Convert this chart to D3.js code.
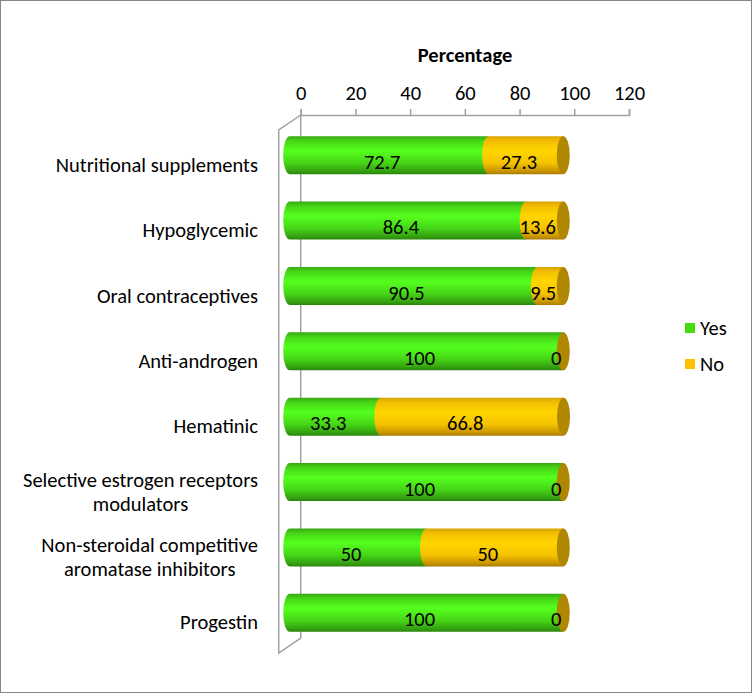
<!DOCTYPE html>
<html>
<head>
<meta charset="utf-8">
<script src="https://cdn.jsdelivr.net/npm/d3@7"></script>
<style>
  body { margin: 0; background: #fff; }
  svg text { font-family: Carlito, Lato, "Open Sans", sans-serif; fill: #000; }
</style>
</head>
<body>
<div id="chart"></div>
<script>
/* categories, top to bottom */
var categories = [
  "Nutritional supplements",
  "Hypoglycemic",
  "Oral contraceptives",
  "Anti-androgen",
  "Hematinic",
  "Selective estrogen receptors|modulators",
  "Non-steroidal competitive|aromatase inhibitors",
  "Progestin"
];
var seriesNames = ["Yes", "No"];
var yesValues = [72.7, 86.4, 90.5, 100, 33.3, 100, 50, 100];
var noValues = [27.3, 13.6, 9.5, 0, 66.8, 0, 50, 0];
var xTicks = [0, 20, 40, 60, 80, 100, 120];

var W = 752, H = 693;
var depthX = -22, depthY = 15; // front plane offset from back wall
var fontSize = "20.5px";

var svg = d3.select("#chart").append("svg")
  .attr("width", W)
  .attr("height", H);

/* gradients for the cylinders */
var defs = svg.append("defs");
function grad(id, stops) {
  var g = defs.append("linearGradient").attr("id", id)
    .attr("x1", 0).attr("y1", 0).attr("x2", 0).attr("y2", 1);
  stops.forEach(function(s) {
    g.append("stop").attr("offset", s[0]).attr("stop-color", s[1]);
  });
}
grad("gYes", [[0, "#37a812"], [0.12, "#46d417"], [0.38, "#55ff1e"], [0.7, "#46d617"], [0.92, "#34a010"], [1, "#2a850c"]]);
grad("gNo", [[0, "#d9a300"], [0.12, "#f2bd00"], [0.38, "#ffd500"], [0.7, "#f5c300"], [0.92, "#c99400"], [1, "#a87c00"]]);
var fills = ["url(#gYes)", "url(#gNo)"];
var capColor = "#b08700";

/* border */
svg.append("rect")
  .attr("x", 0.5).attr("y", 0.5)
  .attr("width", W - 1).attr("height", H - 1)
  .attr("fill", "#fff").attr("stroke", "#868686");

/* scales */
var x = d3.scaleLinear().domain([0, 120]).range([300.7, 629]);
var yFront = d3.scaleBand().domain(categories).range([130, 653]);
var step = yFront.step();
var barH = 38;
var axisY = 115;

/* title */
svg.append("text")
  .attr("x", 465).attr("y", 62)
  .attr("text-anchor", "middle")
  .style("font-size", "20.5px").style("font-weight", "bold")
  .text("Percentage");

/* 3d walls */
var wall = svg.append("g").attr("fill", "none").attr("stroke", "#a0a0a0").attr("stroke-width", 1.5);
var backBottom = 653 - depthY;
wall.append("path")
  .attr("d", "M" + x(0) + "," + axisY + "V" + backBottom +
    "L" + (x(0) + depthX) + "," + (backBottom + depthY) +
    "V" + (axisY + depthY) + "L" + x(0) + "," + axisY);

/* top axis */
var axis = svg.append("g")
  .attr("transform", "translate(0," + axisY + ")")
  .call(d3.axisTop(x).tickValues(xTicks).tickSize(6).tickPadding(9));
axis.select(".domain").attr("stroke", "#a0a0a0").attr("stroke-width", 1.5);
axis.selectAll(".tick line").attr("stroke", "#a0a0a0").attr("stroke-width", 1.5);
axis.selectAll(".tick text")
  .style("font-size", fontSize)
  .style("font-family", "Carlito, Lato, 'Open Sans', sans-serif");

/* bars as cylinders */
var rx = 6.5;
var stacked = categories.map(function(c, i) {
  return [yesValues[i], noValues[i]];
});

categories.forEach(function(c, i) {
  var cyFront = yFront(c) + step / 2;
  var cy = cyFront - 7.5;
  var top = cy - barH / 2;
  var g = svg.append("g").attr("class", "bar");
  var acc = 0;
  stacked[i].forEach(function(v, s) {
    var x0 = x(acc) + depthX / 2;
    var x1 = x(acc + v) + depthX / 2;
    if (v > 0) {
      var ry = barH / 2;
      var d = "M" + x1 + "," + top +
        "H" + x0 +
        "A" + rx + "," + ry + " 0 0 0 " + x0 + "," + (top + barH) +
        "H" + x1 + "Z";
      g.append("path").attr("d", d).attr("fill", fills[s]);
    }
    acc += v;
  });
  /* end cap */
  g.append("ellipse")
    .attr("cx", x(acc) + depthX / 2)
    .attr("cy", cy)
    .attr("rx", rx)
    .attr("ry", barH / 2)
    .attr("fill", capColor);

  /* value labels */
  var a2 = 0;
  stacked[i].forEach(function(v, s) {
    svg.append("text")
      .attr("x", x(a2 + v / 2) - 18)
      .attr("y", cyFront - 1)
      .attr("dy", "0.35em")
      .attr("text-anchor", "middle")
      .style("font-size", fontSize)
      .text(v);
    a2 += v;
  });
});

/* category labels */
categories.forEach(function(c) {
  var lines = c.split("|");
  var cy = yFront(c) + yFront.step() / 2 + 2;
  var t = svg.append("text")
    .style("font-size", fontSize)
    .attr("text-anchor", "middle");
  var spans = lines.map(function(l, k) {
    return t.append("tspan").text(l)
      .attr("y", cy + (k - (lines.length - 1) / 2) * 24)
      .attr("dy", "0.35em");
  });
  var maxW = d3.max(spans, function(s) { return s.node().getComputedTextLength(); });
  spans.forEach(function(s) { s.attr("x", 258 - maxW / 2); });
});

/* legend */
var legend = svg.append("g");
seriesNames.forEach(function(n, i) {
  var ly = 328 + i * 36;
  legend.append("rect")
    .attr("x", 685).attr("y", ly - 5)
    .attr("width", 10).attr("height", 10)
    .attr("fill", i === 0 ? "#44dd0f" : "#ffc000");
  legend.append("text")
    .attr("x", 700).attr("y", ly)
    .attr("dy", "0.35em")
    .style("font-size", fontSize)
    .text(n);
});
</script>
</body>
</html>
